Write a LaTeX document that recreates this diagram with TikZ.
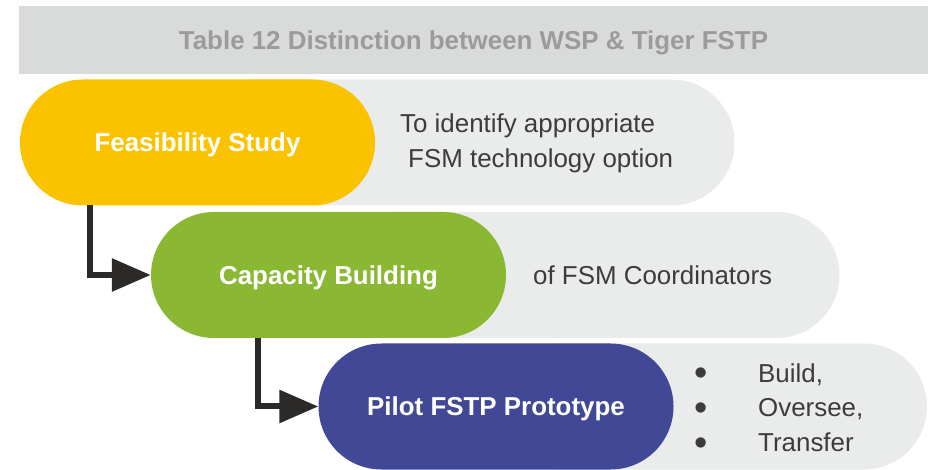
\documentclass[tikz,border=0pt]{standalone}
\usepackage{fontspec}
\setmainfont{Liberation Sans}
\usepackage{tikz}
\usetikzlibrary{arrows.meta}
\definecolor{barcol}{RGB}{217,218,218}
\definecolor{titlecol}{RGB}{155,155,155}
\definecolor{feascol}{RGB}{251,194,0}
\definecolor{capcol}{RGB}{138,184,51}
\definecolor{pilotcol}{RGB}{65,73,151}
\definecolor{notecol}{RGB}{234,235,235}
\definecolor{textcol}{RGB}{60,60,60}
\definecolor{arrowcol}{RGB}{43,42,41}
\newcommand{\bigdot}{\raisebox{-3.5bp}{\fontsize{38}{35}\selectfont\textbullet}}

\begin{document}
\begin{tikzpicture}[line join=miter,
  pill/.style={rectangle,rounded corners=63bp,minimum width=355bp,minimum height=126bp,
    inner sep=0pt,text=white,font=\fontsize{26}{30}\selectfont\bfseries,
    text height=19bp,text depth=0bp},
  note/.style={rectangle,rounded corners=63bp,minimum height=126bp,inner sep=0pt,fill=notecol},
  notetext/.style={inner sep=0pt,text=textcol,font=\fontsize{26}{35}\selectfont,align=left},
  flow/.style={draw=arrowcol,line width=6bp,-{Triangle[length=39bp,width=32bp]}}]
\useasboundingbox (0bp,0bp) rectangle (928bp,470bp);
%% title bar
  \node (title) at (473.5bp,430bp) [rectangle,fill=barcol,minimum width=909bp,minimum height=68bp,
    inner sep=0pt,text=titlecol,font=\fontsize{26}{30}\selectfont\bfseries,text height=19bp,text depth=0bp]
    {Table 12 Distinction between WSP \& Tiger FSTP};
%% grey note pills, behind the coloured ones
  \node (feasnote) at (466bp,327.5bp) [note,minimum width=537bp] {};
  \node (capnote) at (584bp,195bp) [note,minimum width=511bp] {};
  \node (pilotnote) at (711.5bp,63.5bp) [note,minimum width=431bp] {};
%% steps
  \node (feas) at (197.5bp,327.5bp) [pill,fill=feascol] {Feasibility Study};
  \node (capacity) at (328.5bp,195bp) [pill,fill=capcol] {Capacity Building};
  \node (pilot) at (496bp,63.5bp) [pill,fill=pilotcol] {Pilot FSTP Prototype};
%% notes
  \node (feastext) at (400bp,327bp) [notetext,anchor=west]
    {To identify appropriate\\\hspace*{8bp}FSM technology option};
  \node (captext) at (533bp,185bp) [notetext,anchor=base west] {of FSM Coordinators};
  \node (pilottext) at (694bp,60bp) [notetext,anchor=west]
    {\begin{tabular}{@{}p{64bp}@{}l@{}}
      \bigdot & Build,\\
      \bigdot & Oversee,\\
      \bigdot & Transfer
    \end{tabular}};
%% connectors
  \coordinate (feasout) at (90bp,264.5bp);
  \coordinate (capout) at (258bp,132bp);
  \draw [flow] (feasout) |- (capacity);
  \draw [flow] (capout) |- (pilot);
%
\end{tikzpicture}
\end{document}
